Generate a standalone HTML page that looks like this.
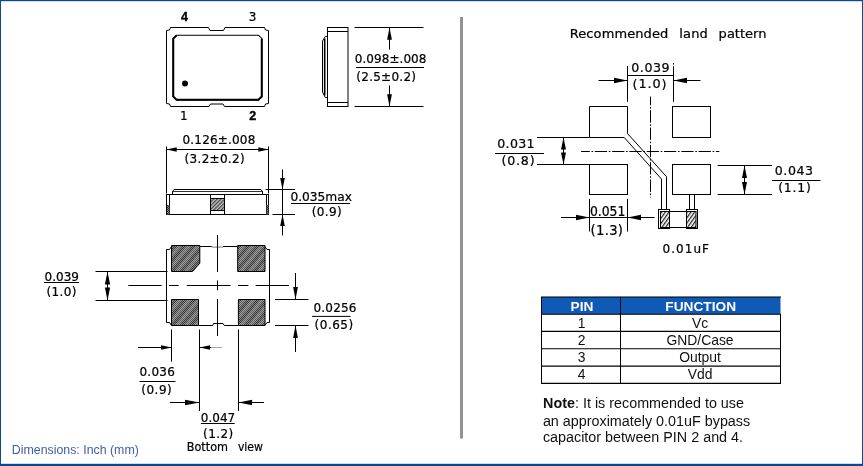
<!DOCTYPE html>
<html lang="en"><head><meta charset="utf-8"><title>Package dimensions</title>
<style>
html,body{margin:0;padding:0;background:#fff;}
body{width:863px;height:466px;overflow:hidden;position:relative;font-family:'Liberation Sans',sans-serif;}
svg{display:block;position:absolute;left:0;top:0;will-change:transform;}
</style></head><body>
<svg width="863" height="466" viewBox="0 0 863 466">
<defs>
<pattern id="hm" width="2.6" height="2.6" patternUnits="userSpaceOnUse" patternTransform="rotate(-45)">
<rect width="2.6" height="2.6" fill="#c4c4c4"/><rect width="2.6" height="1.3" fill="#4a4a4a"/>
</pattern>
<pattern id="ck" width="2" height="2" patternUnits="userSpaceOnUse">
<rect width="2" height="2" fill="#858585"/><rect width="1" height="1" fill="#333"/><rect x="1" y="1" width="1" height="1" fill="#333"/>
</pattern>
<pattern id="st" width="7" height="7" patternUnits="userSpaceOnUse" patternTransform="rotate(-50)">
<rect width="7" height="3.5" fill="#fff" fill-opacity="0.22"/>
</pattern>
<pattern id="hs" width="2.2" height="2.2" patternUnits="userSpaceOnUse" patternTransform="rotate(-45)">
<rect width="2.2" height="2.2" fill="#fff"/><rect width="2.2" height="0.9" fill="#222"/>
</pattern>
<pattern id="hc" width="3" height="3" patternUnits="userSpaceOnUse" patternTransform="rotate(-55)"><rect width="3" height="3" fill="#fff"/><rect width="3" height="1.25" fill="#222"/></pattern>
</defs>
<rect x="0" y="0" width="863" height="466" fill="#fff"/>

<rect x="0" y="0" width="863" height="1.2" fill="#0c4a8c"/>
<rect x="0" y="0" width="1" height="466" fill="#0c4a8c"/>
<rect x="862" y="0" width="1" height="466" fill="#0c4a8c"/>
<rect x="0" y="463.8" width="863" height="2.2" fill="#0c4a8c"/>
<rect x="460" y="17" width="3" height="421.5" fill="#929292"/>
<polygon points="166.5,30.5 169.5,30.0 170.5,27.5 208.5,27.5 210,30.5 223.5,30.5 225,27.5 264.5,27.5 265.5,30.0 268.5,30.5 268.5,103.5 265.5,104.0 264.5,106.5 224.5,106.5 223,104.0 210.5,104.0 209,106.5 170.5,106.5 169.5,104.0 166.5,103.5" fill="none" stroke="#000" stroke-width="1" />
<polygon points="173,38.7 176.5,35.2 258.5,35.2 262,38.7 262,96.5 258.5,100 176.5,100 173,96.5" fill="none" stroke="#000" stroke-width="1.1" />
<polyline points="176.5,35.5 173.3,38.7 173.3,96.5 176.5,99.7 258.5,99.7 261.7,96.5 261.7,38.7" fill="none" stroke="#000" stroke-width="1.9" />
<circle cx="185" cy="83.5" r="3" fill="#000"/>
<text x="184.5" y="20.8" font-family="'Liberation Sans',sans-serif" font-size="12.5" font-weight="bold" fill="#000" text-anchor="middle" stroke="#000" stroke-width="0.35">4</text>
<text x="252.6" y="21" font-family="'DejaVu Sans','Liberation Sans',sans-serif" font-size="12" font-weight="normal" fill="#000" text-anchor="middle" stroke="#000" stroke-width="0.22">3</text>
<text x="183.7" y="119.6" font-family="'DejaVu Sans','Liberation Sans',sans-serif" font-size="12" font-weight="normal" fill="#000" text-anchor="middle" stroke="#000" stroke-width="0.22">1</text>
<text x="252.7" y="119.8" font-family="'Liberation Sans',sans-serif" font-size="12.5" font-weight="bold" fill="#000" text-anchor="middle" stroke="#000" stroke-width="0.35">2</text>
<rect x="327.5" y="27.5" width="20.5" height="79" fill="none" stroke="#000" stroke-width="1"/>
<line x1="327.5" y1="31.5" x2="348" y2="31.5" stroke="#000" stroke-width="1" />
<line x1="327.5" y1="102.5" x2="348" y2="102.5" stroke="#000" stroke-width="1" />
<path d="M327.5,36.5 L325.3,36.5 L322.5,41 L322.5,92 L325.3,97.5 L327.5,97.5" fill="none" stroke="#000" stroke-width="1"/>
<line x1="324.7" y1="38.5" x2="324.7" y2="95.5" stroke="#000" stroke-width="1.6" />
<line x1="354.5" y1="27.5" x2="423.5" y2="27.5" stroke="#000" stroke-width="1" />
<line x1="354.5" y1="106.5" x2="423.5" y2="106.5" stroke="#000" stroke-width="1" />
<line x1="389.5" y1="27.5" x2="389.5" y2="49.6" stroke="#000" stroke-width="1" />
<line x1="389.5" y1="85.4" x2="389.5" y2="106.5" stroke="#000" stroke-width="1" />
<polygon points="389.5,27.5 387.1,39.8 391.9,39.8" fill="#000" stroke="none"/>
<polygon points="389.5,106.5 387.1,94.2 391.9,94.2" fill="#000" stroke="none"/>
<text x="354.8" y="63.2" font-family="'DejaVu Sans','Liberation Sans',sans-serif" font-size="12" font-weight="normal" fill="#000" text-anchor="start" textLength="71.6" lengthAdjust="spacing" stroke="#000" stroke-width="0.22">0.098±.008</text>
<line x1="356" y1="67.5" x2="424" y2="67.5" stroke="#000" stroke-width="1" />
<text x="356.3" y="81" font-family="'DejaVu Sans','Liberation Sans',sans-serif" font-size="12" font-weight="normal" fill="#000" text-anchor="start" textLength="59.7" lengthAdjust="spacing" stroke="#000" stroke-width="0.22">(2.5±0.2)</text>
<line x1="166.5" y1="146.5" x2="166.5" y2="193.5" stroke="#000" stroke-width="1" />
<line x1="268.5" y1="146.5" x2="268.5" y2="193.5" stroke="#000" stroke-width="1" />
<line x1="166.5" y1="149.5" x2="268.5" y2="149.5" stroke="#000" stroke-width="1" />
<polygon points="166.5,149.5 176.7,147.2 176.7,151.8" fill="#000" stroke="none"/>
<polygon points="268.5,149.5 258.3,147.2 258.3,151.8" fill="#000" stroke="none"/>
<text x="182.5" y="143.5" font-family="'DejaVu Sans','Liberation Sans',sans-serif" font-size="12" font-weight="normal" fill="#000" text-anchor="start" textLength="72.8" lengthAdjust="spacing" stroke="#000" stroke-width="0.22">0.126±.008</text>
<text x="184.6" y="163.3" font-family="'DejaVu Sans','Liberation Sans',sans-serif" font-size="12" font-weight="normal" fill="#000" text-anchor="start" textLength="60" lengthAdjust="spacing" stroke="#000" stroke-width="0.22">(3.2±0.2)</text>
<rect x="166.5" y="194.5" width="102" height="20" fill="none" stroke="#000" stroke-width="1"/>
<polyline points="172.5,194.5 172.5,191.5 174,189.5 261,189.5 262.5,191.5 262.5,194.5" fill="none" stroke="#000" stroke-width="1" />
<line x1="172.5" y1="191.5" x2="262.5" y2="191.5" stroke="#000" stroke-width="0.8" />
<line x1="169.5" y1="194.5" x2="169.5" y2="214.5" stroke="#000" stroke-width="1" />
<line x1="266.5" y1="194.5" x2="266.5" y2="214.5" stroke="#000" stroke-width="1" />
<rect x="167" y="205" width="2.5" height="9.5" fill="url(#ck)"/>
<rect x="266.5" y="205" width="2" height="9.5" fill="url(#ck)"/>
<line x1="210.5" y1="194.5" x2="210.5" y2="214.5" stroke="#000" stroke-width="1" />
<line x1="224.5" y1="194.5" x2="224.5" y2="214.5" stroke="#000" stroke-width="1" />
<rect x="210.5" y="198.5" width="14" height="12" fill="url(#hm)" stroke="#000" stroke-width="1"/>
<line x1="265.5" y1="189.5" x2="295" y2="189.5" stroke="#000" stroke-width="1" />
<line x1="272.5" y1="214.5" x2="295" y2="214.5" stroke="#000" stroke-width="1" />
<line x1="282.5" y1="169.5" x2="282.5" y2="235.5" stroke="#000" stroke-width="1" />
<polygon points="282.5,189.5 280.2,178.0 284.8,178.0" fill="#000" stroke="none"/>
<polygon points="282.5,214.5 280.2,226.0 284.8,226.0" fill="#000" stroke="none"/>
<text x="290.4" y="200.6" font-family="'DejaVu Sans','Liberation Sans',sans-serif" font-size="12.5" font-weight="normal" fill="#000" text-anchor="start" textLength="61.6" lengthAdjust="spacingAndGlyphs" stroke="#000" stroke-width="0.22">0.035max</text>
<line x1="291" y1="203.5" x2="350" y2="203.5" stroke="#000" stroke-width="1" />
<text x="311.7" y="216" font-family="'DejaVu Sans','Liberation Sans',sans-serif" font-size="12" font-weight="normal" fill="#000" text-anchor="start" textLength="30" lengthAdjust="spacing" stroke="#000" stroke-width="0.22">(0.9)</text>
<polyline points="200,246.5 211.8,246.5" fill="none" stroke="#000" stroke-width="1" />
<polyline points="223,246.5 237.7,246.5" fill="none" stroke="#000" stroke-width="1" />
<line x1="211.8" y1="247.1" x2="223" y2="247.1" stroke="#9a9a9a" stroke-width="1.3" />
<polyline points="171.5,246.5 169.5,249.5 166.5,249.5 166.5,322.5 169.5,322.5 171.5,325.5" fill="none" stroke="#000" stroke-width="1" />
<polyline points="264.8,246.5 267,249.5 269.5,249.5 269.5,322.5 267,322.5 264.8,325.5" fill="none" stroke="#000" stroke-width="1" />
<polyline points="198.5,325.5 212.7,325.5 213.6,323.5 223,323.5 224.3,325.5 238.4,325.5" fill="none" stroke="#000" stroke-width="1" />
<polygon points="171.5,245.5 199.8,245.5 199.8,263.2 192.5,271.5 171.5,271.5" fill="url(#ck)" stroke="none"/>
<polygon points="171.5,245.5 199.8,245.5 199.8,263.2 192.5,271.5 171.5,271.5" fill="url(#st)" stroke="#000" stroke-width="1"/>
<polygon points="237.7,245.5 265,245.5 265,271.5 237.7,271.5" fill="url(#ck)" stroke="none"/>
<polygon points="237.7,245.5 265,245.5 265,271.5 237.7,271.5" fill="url(#st)" stroke="#000" stroke-width="1"/>
<polygon points="171.5,299.5 198.5,299.5 198.5,325.5 171.5,325.5" fill="url(#ck)" stroke="none"/>
<polygon points="171.5,299.5 198.5,299.5 198.5,325.5 171.5,325.5" fill="url(#st)" stroke="#000" stroke-width="1"/>
<polygon points="238.4,299.5 265,299.5 265,325.5 238.4,325.5" fill="url(#ck)" stroke="none"/>
<polygon points="238.4,299.5 265,299.5 265,325.5 238.4,325.5" fill="url(#st)" stroke="#000" stroke-width="1"/>
<line x1="217.5" y1="235" x2="217.5" y2="272" stroke="#000" stroke-width="1" />
<line x1="217.5" y1="280.5" x2="217.5" y2="290.3" stroke="#000" stroke-width="1" />
<line x1="217.5" y1="299" x2="217.5" y2="336" stroke="#000" stroke-width="1" />
<line x1="128.3" y1="285.5" x2="161.7" y2="285.5" stroke="#000" stroke-width="1" />
<line x1="169" y1="285.5" x2="178.7" y2="285.5" stroke="#000" stroke-width="1" />
<line x1="186.8" y1="285.5" x2="230.6" y2="285.5" stroke="#000" stroke-width="1" />
<line x1="238" y1="285.5" x2="248.4" y2="285.5" stroke="#000" stroke-width="1" />
<line x1="255.7" y1="285.5" x2="289" y2="285.5" stroke="#000" stroke-width="1" />
<line x1="95.5" y1="271.5" x2="167.5" y2="271.5" stroke="#000" stroke-width="1" />
<line x1="95.5" y1="300.5" x2="167.5" y2="300.5" stroke="#000" stroke-width="1" />
<line x1="107.5" y1="271.5" x2="107.5" y2="300.5" stroke="#000" stroke-width="1" />
<polygon points="107.5,271.5 104.9,284.5 110.1,284.5" fill="#000" stroke="none"/>
<polygon points="107.5,300.5 104.9,287.5 110.1,287.5" fill="#000" stroke="none"/>
<text x="44.6" y="280.7" font-family="'DejaVu Sans','Liberation Sans',sans-serif" font-size="12" font-weight="normal" fill="#000" text-anchor="start" textLength="34.3" lengthAdjust="spacing" stroke="#000" stroke-width="0.22">0.039</text>
<line x1="44" y1="282.5" x2="79" y2="282.5" stroke="#000" stroke-width="1" />
<text x="46.4" y="296.3" font-family="'DejaVu Sans','Liberation Sans',sans-serif" font-size="12" font-weight="normal" fill="#000" text-anchor="start" textLength="30.1" lengthAdjust="spacing" stroke="#000" stroke-width="0.22">(1.0)</text>
<line x1="275" y1="299.5" x2="308.5" y2="299.5" stroke="#000" stroke-width="1" />
<line x1="275" y1="325.5" x2="308.5" y2="325.5" stroke="#000" stroke-width="1" />
<line x1="295.5" y1="273" x2="295.5" y2="299.5" stroke="#000" stroke-width="1" />
<line x1="295.5" y1="325.5" x2="295.5" y2="352" stroke="#000" stroke-width="1" />
<polygon points="295.5,299.5 293.1,287.0 297.9,287.0" fill="#000" stroke="none"/>
<polygon points="295.5,325.5 293.1,338.0 297.9,338.0" fill="#000" stroke="none"/>
<text x="313.5" y="312" font-family="'DejaVu Sans','Liberation Sans',sans-serif" font-size="12" font-weight="normal" fill="#000" text-anchor="start" textLength="43" lengthAdjust="spacing" stroke="#000" stroke-width="0.22">0.0256</text>
<line x1="312" y1="316.4" x2="350.5" y2="316.4" stroke="#000" stroke-width="1" />
<text x="314.6" y="328.7" font-family="'DejaVu Sans','Liberation Sans',sans-serif" font-size="12" font-weight="normal" fill="#000" text-anchor="start" textLength="38.5" lengthAdjust="spacing" stroke="#000" stroke-width="0.22">(0.65)</text>
<line x1="171.5" y1="329.5" x2="171.5" y2="361.7" stroke="#000" stroke-width="1" />
<line x1="199.5" y1="329.5" x2="199.5" y2="411" stroke="#000" stroke-width="1" />
<line x1="238.5" y1="329.5" x2="238.5" y2="411" stroke="#000" stroke-width="1" />
<line x1="138" y1="347.5" x2="171.5" y2="347.5" stroke="#000" stroke-width="1" />
<polygon points="171.5,347.5 161.0,345.2 161.0,349.8" fill="#000" stroke="none"/>
<line x1="199.5" y1="347.5" x2="211" y2="347.5" stroke="#000" stroke-width="1" />
<line x1="211" y1="347.5" x2="222" y2="347.5" stroke="#aaa" stroke-width="1" />
<polygon points="199.5,347.5 210.0,345.2 210.0,349.8" fill="#000" stroke="none"/>
<text x="139.5" y="376.2" font-family="'DejaVu Sans','Liberation Sans',sans-serif" font-size="12" font-weight="normal" fill="#000" text-anchor="start" textLength="35.3" lengthAdjust="spacing" stroke="#000" stroke-width="0.22">0.036</text>
<line x1="139.5" y1="381.5" x2="175.5" y2="381.5" stroke="#000" stroke-width="1" />
<text x="141.3" y="394" font-family="'DejaVu Sans','Liberation Sans',sans-serif" font-size="12" font-weight="normal" fill="#000" text-anchor="start" textLength="30.4" lengthAdjust="spacing" stroke="#000" stroke-width="0.22">(0.9)</text>
<line x1="170" y1="402.5" x2="199.5" y2="402.5" stroke="#000" stroke-width="1" />
<polygon points="199.5,402.5 185.0,399.8 185.0,405.2" fill="#000" stroke="none"/>
<line x1="238.5" y1="402.5" x2="264" y2="402.5" stroke="#000" stroke-width="1" />
<polygon points="238.5,402.5 252.1,399.8 252.1,405.2" fill="#000" stroke="none"/>
<text x="200.8" y="422.3" font-family="'DejaVu Sans','Liberation Sans',sans-serif" font-size="12" font-weight="normal" fill="#000" text-anchor="start" textLength="34.4" lengthAdjust="spacing" stroke="#000" stroke-width="0.22">0.047</text>
<line x1="200.9" y1="423.5" x2="234.7" y2="423.5" stroke="#000" stroke-width="1" />
<text x="203" y="438.3" font-family="'DejaVu Sans','Liberation Sans',sans-serif" font-size="12" font-weight="normal" fill="#000" text-anchor="start" textLength="30.3" lengthAdjust="spacing" stroke="#000" stroke-width="0.22">(1.2)</text>
<text x="186.8" y="451.3" font-family="'DejaVu Sans','Liberation Sans',sans-serif" font-size="11.6" font-weight="normal" fill="#000" text-anchor="start" textLength="41.2" lengthAdjust="spacingAndGlyphs" stroke="#000" stroke-width="0.22">Bottom</text>
<text x="237.9" y="451.3" font-family="'DejaVu Sans','Liberation Sans',sans-serif" font-size="11.6" font-weight="normal" fill="#000" text-anchor="start" textLength="25" lengthAdjust="spacingAndGlyphs" stroke="#000" stroke-width="0.22">view</text>
<text x="11.8" y="453.6" font-family="'Liberation Sans',sans-serif" font-size="13.4" font-weight="normal" fill="#3f5fa3" text-anchor="start" textLength="127" lengthAdjust="spacingAndGlyphs" >Dimensions: Inch (mm)</text>
<text x="569.7" y="38" font-family="'DejaVu Sans','Liberation Sans',sans-serif" font-size="13" font-weight="normal" fill="#000" text-anchor="start" textLength="98.6" lengthAdjust="spacing" stroke="#000" stroke-width="0.22">Recommended</text>
<text x="679.3" y="38" font-family="'DejaVu Sans','Liberation Sans',sans-serif" font-size="13" font-weight="normal" fill="#000" text-anchor="start" textLength="28.5" lengthAdjust="spacing" stroke="#000" stroke-width="0.22">land</text>
<text x="718.6" y="38" font-family="'DejaVu Sans','Liberation Sans',sans-serif" font-size="13" font-weight="normal" fill="#000" text-anchor="start" textLength="47.9" lengthAdjust="spacing" stroke="#000" stroke-width="0.22">pattern</text>
<rect x="672.5" y="106.5" width="38" height="31" fill="none" stroke="#000" stroke-width="1"/>
<rect x="589.5" y="164.5" width="38" height="30" fill="none" stroke="#000" stroke-width="1"/>
<rect x="672.5" y="164.5" width="38" height="30" fill="none" stroke="#000" stroke-width="1"/>
<polyline points="624.2,137.5 589.5,137.5 589.5,106.5 627.5,106.5 627.5,133.5" fill="none" stroke="#000" stroke-width="1" />
<line x1="650.5" y1="96.6" x2="650.5" y2="197.4" stroke="#000" stroke-width="1" stroke-dasharray="12.3 1.7 1.6 1.7" stroke-dashoffset="3.6"/>
<line x1="581.1" y1="151.5" x2="719.3" y2="151.5" stroke="#000" stroke-width="1" stroke-dasharray="12.3 1.7 1.6 1.7" stroke-dashoffset="3.6"/>
<line x1="627.5" y1="66" x2="627.5" y2="101.8" stroke="#000" stroke-width="1" />
<line x1="673.5" y1="66.2" x2="673.5" y2="101.8" stroke="#000" stroke-width="1" />
<line x1="673.5" y1="63" x2="673.5" y2="64.4" stroke="#000" stroke-width="1" />
<line x1="598.5" y1="80.5" x2="627.5" y2="80.5" stroke="#000" stroke-width="1" />
<polygon points="627.5,80.5 614.0,77.8 614.0,83.2" fill="#000" stroke="none"/>
<line x1="673.5" y1="80.5" x2="700.5" y2="80.5" stroke="#000" stroke-width="1" />
<polygon points="673.5,80.5 687.0,77.8 687.0,83.2" fill="#000" stroke="none"/>
<text x="631.2" y="71.6" font-family="'DejaVu Sans','Liberation Sans',sans-serif" font-size="12.6" font-weight="normal" fill="#000" text-anchor="start" textLength="38.4" lengthAdjust="spacing" stroke="#000" stroke-width="0.22">0.039</text>
<line x1="627.5" y1="75.5" x2="673.5" y2="75.5" stroke="#000" stroke-width="1" />
<text x="632.6" y="88.1" font-family="'DejaVu Sans','Liberation Sans',sans-serif" font-size="12.8" font-weight="normal" fill="#000" text-anchor="start" textLength="33.9" lengthAdjust="spacing" stroke="#000" stroke-width="0.22">(1.0)</text>
<line x1="537" y1="137.5" x2="589.5" y2="137.5" stroke="#000" stroke-width="1" />
<line x1="537" y1="164.5" x2="589.5" y2="164.5" stroke="#000" stroke-width="1" />
<line x1="563.5" y1="137.5" x2="563.5" y2="164.5" stroke="#000" stroke-width="1" />
<polygon points="563.5,137.5 561.0,149.5 566.0,149.5" fill="#000" stroke="none"/>
<polygon points="563.5,164.5 561.0,152.5 566.0,152.5" fill="#000" stroke="none"/>
<text x="497.2" y="148.1" font-family="'DejaVu Sans','Liberation Sans',sans-serif" font-size="12.6" font-weight="normal" fill="#000" text-anchor="start" textLength="37.4" lengthAdjust="spacing" stroke="#000" stroke-width="0.22">0.031</text>
<line x1="495" y1="153.5" x2="544" y2="153.5" stroke="#000" stroke-width="1" />
<text x="501.4" y="165" font-family="'DejaVu Sans','Liberation Sans',sans-serif" font-size="12.6" font-weight="normal" fill="#000" text-anchor="start" textLength="33.2" lengthAdjust="spacing" stroke="#000" stroke-width="0.22">(0.8)</text>
<line x1="717.7" y1="165.5" x2="772" y2="165.5" stroke="#000" stroke-width="1" />
<line x1="717.7" y1="194.5" x2="772" y2="194.5" stroke="#000" stroke-width="1" />
<line x1="744.5" y1="165.5" x2="744.5" y2="194.5" stroke="#000" stroke-width="1" />
<polygon points="744.5,165.5 742.0,178.0 747.0,178.0" fill="#000" stroke="none"/>
<polygon points="744.5,194.5 742.0,182.0 747.0,182.0" fill="#000" stroke="none"/>
<text x="774.7" y="174.8" font-family="'DejaVu Sans','Liberation Sans',sans-serif" font-size="12.6" font-weight="normal" fill="#000" text-anchor="start" textLength="38.4" lengthAdjust="spacing" stroke="#000" stroke-width="0.22">0.043</text>
<line x1="772" y1="180.5" x2="820.5" y2="180.5" stroke="#000" stroke-width="1" />
<text x="778.2" y="191.7" font-family="'DejaVu Sans','Liberation Sans',sans-serif" font-size="12.4" font-weight="normal" fill="#000" text-anchor="start" textLength="32.7" lengthAdjust="spacing" stroke="#000" stroke-width="0.22">(1.1)</text>
<line x1="589.5" y1="198.9" x2="589.5" y2="231.5" stroke="#000" stroke-width="1" />
<line x1="627.5" y1="198.9" x2="627.5" y2="231.5" stroke="#000" stroke-width="1" />
<line x1="561" y1="217.5" x2="654.5" y2="217.5" stroke="#000" stroke-width="1" />
<polygon points="589.5,217.5 576.0,214.8 576.0,220.2" fill="#000" stroke="none"/>
<polygon points="627.5,217.5 641.0,214.8 641.0,220.2" fill="#000" stroke="none"/>
<text x="589.9" y="215.8" font-family="'DejaVu Sans','Liberation Sans',sans-serif" font-size="13.5" font-weight="normal" fill="#000" text-anchor="start" textLength="35.5" lengthAdjust="spacingAndGlyphs" stroke="#000" stroke-width="0.22">0.051</text>
<text x="590.6" y="234.6" font-family="'DejaVu Sans','Liberation Sans',sans-serif" font-size="13.2" font-weight="normal" fill="#000" text-anchor="start" textLength="32.4" lengthAdjust="spacing" stroke="#000" stroke-width="0.22">(1.3)</text>
<polyline points="627.5,133.5 666.5,176.7 666.5,209.5" fill="none" stroke="#000" stroke-width="1" />
<polyline points="624.2,137.5 661.5,179.1 661.5,209.5" fill="none" stroke="#000" stroke-width="1" />
<line x1="689.5" y1="194.5" x2="689.5" y2="209.5" stroke="#000" stroke-width="1" />
<line x1="694.5" y1="194.5" x2="694.5" y2="209.5" stroke="#000" stroke-width="1" />
<rect x="658.5" y="209.5" width="11" height="19" fill="#fff" stroke="#000" stroke-width="1"/>
<rect x="660.5" y="211.5" width="9" height="16" fill="url(#hc)" stroke="#000" stroke-width="1"/>
<rect x="686.5" y="209.5" width="11" height="19" fill="#fff" stroke="#000" stroke-width="1"/>
<rect x="686.5" y="211.5" width="9.5" height="16" fill="url(#hc)" stroke="#000" stroke-width="1"/>
<line x1="669.5" y1="211.5" x2="686.5" y2="211.5" stroke="#000" stroke-width="1" />
<line x1="669.5" y1="227.5" x2="686.5" y2="227.5" stroke="#000" stroke-width="1" />
<text x="662.6" y="252.5" font-family="'DejaVu Sans','Liberation Sans',sans-serif" font-size="12" font-weight="normal" fill="#000" text-anchor="start" textLength="46.3" lengthAdjust="spacing" stroke="#000" stroke-width="0.22">0.01uF</text>
<rect x="541.5" y="297" width="239.0" height="17.19999999999999" fill="#0f5ab4"/>
<line x1="541.0" y1="297" x2="781.0" y2="297" stroke="#000" stroke-width="1.1" />
<line x1="541.0" y1="314.2" x2="781.0" y2="314.2" stroke="#000" stroke-width="1.1" />
<line x1="541.0" y1="331.4" x2="781.0" y2="331.4" stroke="#000" stroke-width="1.1" />
<line x1="541.0" y1="348.8" x2="781.0" y2="348.8" stroke="#000" stroke-width="1.1" />
<line x1="541.0" y1="366.1" x2="781.0" y2="366.1" stroke="#000" stroke-width="1.1" />
<line x1="541.0" y1="383.4" x2="781.0" y2="383.4" stroke="#000" stroke-width="1.1" />
<line x1="541.5" y1="297" x2="541.5" y2="383.4" stroke="#000" stroke-width="1" />
<line x1="620.5" y1="297" x2="620.5" y2="383.4" stroke="#000" stroke-width="1" />
<line x1="780.5" y1="314.2" x2="780.5" y2="383.4" stroke="#000" stroke-width="1" />
<text x="582" y="310.9" font-family="'Liberation Sans',sans-serif" font-size="13.7" font-weight="bold" fill="#fff" text-anchor="middle" >PIN</text>
<text x="700.7" y="310.9" font-family="'Liberation Sans',sans-serif" font-size="13.7" font-weight="bold" fill="#fff" text-anchor="middle" >FUNCTION</text>
<text x="581.5" y="327.5" font-family="'Liberation Sans',sans-serif" font-size="13.9" font-weight="normal" fill="#111" text-anchor="middle" >1</text>
<text x="700" y="327.5" font-family="'Liberation Sans',sans-serif" font-size="13.9" font-weight="normal" fill="#111" text-anchor="middle" >Vc</text>
<text x="581.5" y="344.7" font-family="'Liberation Sans',sans-serif" font-size="13.9" font-weight="normal" fill="#111" text-anchor="middle" >2</text>
<text x="700" y="344.7" font-family="'Liberation Sans',sans-serif" font-size="13.9" font-weight="normal" fill="#111" text-anchor="middle" >GND/Case</text>
<text x="581.5" y="362.1" font-family="'Liberation Sans',sans-serif" font-size="13.9" font-weight="normal" fill="#111" text-anchor="middle" >3</text>
<text x="700" y="362.1" font-family="'Liberation Sans',sans-serif" font-size="13.9" font-weight="normal" fill="#111" text-anchor="middle" >Output</text>
<text x="581.5" y="379.40000000000003" font-family="'Liberation Sans',sans-serif" font-size="13.9" font-weight="normal" fill="#111" text-anchor="middle" >4</text>
<text x="700" y="379.40000000000003" font-family="'Liberation Sans',sans-serif" font-size="13.9" font-weight="normal" fill="#111" text-anchor="middle" >Vdd</text>
<text x="543.1" y="407.6" font-family="'Liberation Sans',sans-serif" font-size="14.35" fill="#111"><tspan font-weight="bold">Note</tspan>: It is recommended to use</text>
<text x="542.9" y="425.7" font-family="'Liberation Sans',sans-serif" font-size="14.35" font-weight="normal" fill="#111" text-anchor="start" >an approximately 0.01uF bypass</text>
<text x="542.9" y="442.4" font-family="'Liberation Sans',sans-serif" font-size="14.35" font-weight="normal" fill="#111" text-anchor="start" >capacitor between PIN 2 and 4.</text>
</svg>
</body></html>
